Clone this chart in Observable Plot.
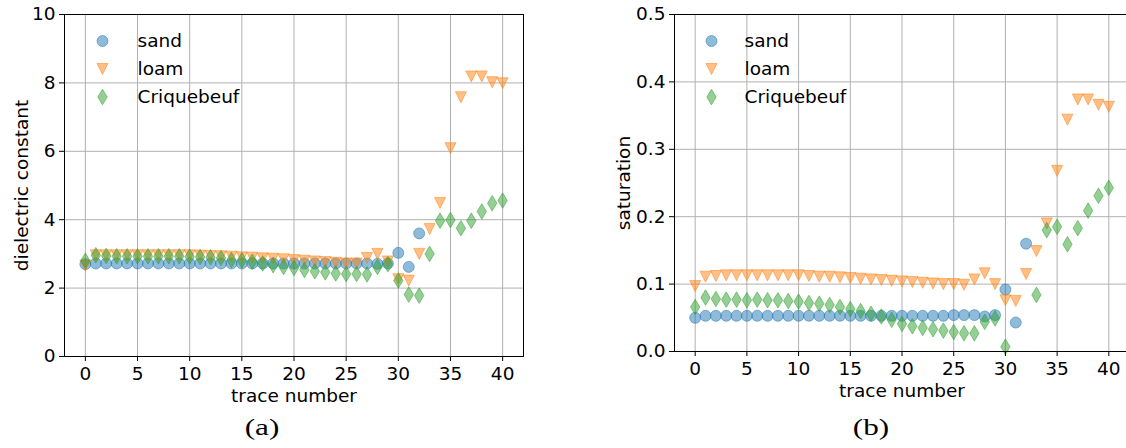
<!DOCTYPE html>
<html>
<head>
<meta charset="utf-8">
<script src="https://cdn.jsdelivr.net/npm/d3@7"></script>
<script src="https://cdn.jsdelivr.net/npm/@observablehq/plot@0.6"></script>
<style>
  body { margin: 0; background: #fff; }
  #fig { position: relative; width: 1126px; height: 448px; overflow: hidden; background: #fff; }
  .panel { position: absolute; top: 0; }
  .cap {
    position: absolute; top: 415px; line-height: 24px;
    font-family: "Liberation Serif", "Times New Roman", serif; font-size: 24px; color: #000;
    transform: translateX(-50%) scaleX(1.3); white-space: nowrap;
  }
</style>
</head>
<body>
<div id="fig"></div>
<script>
// Trace numbers along the survey line
const traces = [0, 1, 2, 3, 4, 5, 6, 7, 8, 9, 10, 11, 12, 13, 14, 15, 16, 17, 18, 19, 20,
                21, 22, 23, 24, 25, 26, 27, 28, 29, 30, 31, 32, 33, 34, 35, 36, 37, 38, 39, 40];
const sandTraces = [0, 1, 2, 3, 4, 5, 6, 7, 8, 9, 10, 11, 12, 13, 14, 15, 16, 17, 18, 19, 20,
                    21, 22, 23, 24, 25, 26, 27, 28, 29, 30, 31, 32];

const seriesNames = ["sand", "loam", "Criquebeuf"];
const seriesColors = ["#1f77b4", "#ff7f0e", "#2ca02c"];

// (a) dielectric constant per trace
const sandPermittivity = [2.70, 2.72, 2.72, 2.72, 2.72, 2.72, 2.72, 2.72, 2.72, 2.72, 2.72,
  2.72, 2.72, 2.72, 2.72, 2.72, 2.72, 2.72, 2.72, 2.72, 2.72, 2.72, 2.72, 2.72, 2.72, 2.72,
  2.72, 2.72, 2.71, 2.72, 3.03, 2.62, 3.60];
const loamPermittivity = [2.66, 2.96, 2.96, 2.96, 2.96, 2.96, 2.96, 2.96, 2.96, 2.96, 2.96,
  2.95, 2.94, 2.93, 2.92, 2.90, 2.89, 2.87, 2.86, 2.84, 2.82, 2.80, 2.78, 2.76, 2.74, 2.72,
  2.72, 2.88, 3.00, 2.78, 2.26, 2.22, 3.00, 3.73, 4.49, 6.09, 7.58, 8.19, 8.19, 8.02, 7.99];
const criquebeufPermittivity = [2.80, 2.96, 2.94, 2.93, 2.93, 2.93, 2.93, 2.93, 2.93, 2.93, 2.92,
  2.91, 2.90, 2.88, 2.82, 2.81, 2.77, 2.72, 2.67, 2.62, 2.59, 2.53, 2.49, 2.46, 2.43, 2.41,
  2.41, 2.40, 2.62, 2.70, 2.22, 1.81, 1.78, 3.00, 3.97, 3.99, 3.75, 3.97, 4.24, 4.48, 4.56];

// (b) saturation per trace (null where the estimate falls below zero)
const sandSaturation = [0.050, 0.053, 0.053, 0.053, 0.053, 0.053, 0.053, 0.053, 0.053, 0.053, 0.053,
  0.053, 0.053, 0.053, 0.053, 0.053, 0.053, 0.053, 0.053, 0.053, 0.053, 0.053, 0.053, 0.053, 0.053,
  0.054, 0.054, 0.054, 0.052, 0.054, 0.092, 0.043, 0.160];
const loamSaturation = [0.097, 0.111, 0.112, 0.113, 0.113, 0.113, 0.113, 0.113, 0.113, 0.113, 0.113,
  0.112, 0.111, 0.111, 0.110, 0.109, 0.108, 0.107, 0.106, 0.105, 0.104, 0.103, 0.102, 0.101, 0.100,
  0.100, 0.099, 0.107, 0.116, 0.100, 0.076, 0.075, 0.115, 0.149, 0.190, 0.268, 0.344, 0.374, 0.374,
  0.366, 0.363];
const criquebeufSaturation = [0.066, 0.080, 0.078, 0.077, 0.077, 0.076, 0.077, 0.076, 0.076, 0.075, 0.074,
  0.072, 0.071, 0.069, 0.066, 0.063, 0.060, 0.056, 0.052, 0.047, 0.041, 0.0375, 0.035, 0.033, 0.031,
  0.029, 0.027, 0.027, 0.044, 0.049, 0.007, null, null, 0.084, 0.180, 0.185, 0.159, 0.183, 0.209,
  0.231, 0.243];

const xTicks = [0, 5, 10, 15, 20, 25, 30, 35, 40];
const permittivityTicks = [0, 2, 4, 6, 8, 10];
const saturationTicks = [0, 0.1, 0.2, 0.3, 0.4, 0.5];

// Marker shapes: circle, downward triangle, thin diamond
const circleSymbol = {
  draw(ctx, size) { const r = Math.sqrt(size / Math.PI); ctx.moveTo(r, 0); ctx.arc(0, 0, r, 0, 2 * Math.PI); }
};
const triangleDownSymbol = {
  draw(ctx, size) {
    const r = Math.sqrt(size / Math.PI);
    ctx.moveTo(0, r); ctx.lineTo(-r, -r); ctx.lineTo(r, -r); ctx.closePath();
  }
};
const thinDiamondSymbol = {
  draw(ctx, size) {
    const r = Math.sqrt(size / Math.PI), h = r * 1.414, w = r * 0.85;
    ctx.moveTo(0, -h); ctx.lineTo(w, 0); ctx.lineTo(0, h); ctx.lineTo(-w, 0); ctx.closePath();
  }
};
const seriesSymbols = [circleSymbol, triangleDownSymbol, thinDiamondSymbol];

const toRows = (values, tr) => values.map((v, i) => ({trace: tr[i], value: v}));

const FONT = 18.5;
const MARKER_R = 5.5;

function scatterPanel({series, yDomain, yTicks, yFormat, yLabel, yLabelDx,
                       width, marginLeft, marginRight, marginTop, marginBottom,
                       legendDx, legendTextDx}) {
  const grid = {stroke: "#b0b0b0", strokeOpacity: 1, strokeWidth: 1};
  const marks = [
    Plot.gridX(xTicks, grid),
    Plot.gridY(yTicks, grid)
  ];
  series.forEach((rows, i) => {
    marks.push(Plot.dot(rows, {
      x: "trace", y: "value", r: MARKER_R, symbol: seriesSymbols[i],
      fill: seriesColors[i], fillOpacity: 0.5,
      stroke: seriesColors[i], strokeOpacity: 0.5, strokeWidth: 1
    }));
  });
  marks.push(Plot.frame({stroke: "#000", strokeWidth: 1}));
  marks.push(Plot.axisX(xTicks, {tickSize: 5, tickPadding: 5, label: null}));
  marks.push(Plot.axisY(yTicks, {tickSize: 5, tickPadding: 4, tickFormat: yFormat, label: null}));
  marks.push(Plot.text(["trace number"], {
    text: d => d, frameAnchor: "bottom", dy: 40, textAnchor: "middle", lineAnchor: "middle"
  }));
  marks.push(Plot.text([yLabel], {
    text: d => d, frameAnchor: "left", rotate: -90, dx: yLabelDx, textAnchor: "middle", lineAnchor: "middle"
  }));
  // Legend entries in the upper-left corner of the axes
  seriesNames.forEach((name, i) => {
    const dy = 26.5 + 28 * i;
    marks.push(Plot.dot([name], {
      frameAnchor: "top-left", dx: legendDx, dy, r: MARKER_R, symbol: seriesSymbols[i],
      fill: seriesColors[i], fillOpacity: 0.5,
      stroke: seriesColors[i], strokeOpacity: 0.5, strokeWidth: 1
    }));
    marks.push(Plot.text([name], {
      text: d => d, frameAnchor: "top-left", dx: legendTextDx, dy,
      textAnchor: "start", lineAnchor: "middle"
    }));
  });
  return Plot.plot({
    width, height: 412, marginLeft, marginRight, marginTop, marginBottom,
    x: {domain: [-2, 42]},
    y: {domain: yDomain},
    style: {fontFamily: "'DejaVu Sans', sans-serif", fontSize: FONT + "px", color: "#000", background: "transparent", overflow: "visible"},
    marks
  });
}

const fig = document.getElementById("fig");

const chartA = scatterPanel({
  series: [
    toRows(sandPermittivity, sandTraces),
    toRows(loamPermittivity, traces),
    toRows(criquebeufPermittivity, traces)
  ],
  yDomain: [0, 10], yTicks: permittivityTicks, yFormat: d3.format("d"),
  yLabel: "dielectric constant", yLabelDx: -42,
  width: 543, marginLeft: 64, marginRight: 20, marginTop: 14, marginBottom: 56,
  legendDx: 38, legendTextDx: 73
});
chartA.classList.add("panel");
chartA.style.left = "0px";
fig.appendChild(chartA);

const chartB = scatterPanel({
  series: [
    toRows(sandSaturation, sandTraces),
    toRows(loamSaturation, traces),
    toRows(criquebeufSaturation, traces)
  ],
  yDomain: [0, 0.5], yTicks: saturationTicks, yFormat: d3.format(".1f"),
  yLabel: "saturation", yLabelDx: -50,
  width: 579, marginLeft: 114, marginRight: 10, marginTop: 14, marginBottom: 61,
  legendDx: 37, legendTextDx: 70
});
chartB.classList.add("panel");
chartB.style.left = "560px";
fig.appendChild(chartB);

// Sub-figure captions
[["(a)", 262], ["(b)", 871]].forEach(([label, cx]) => {
  const div = document.createElement("div");
  div.className = "cap";
  div.textContent = label;
  div.style.left = cx + "px";
  fig.appendChild(div);
});
</script>
</body>
</html>
